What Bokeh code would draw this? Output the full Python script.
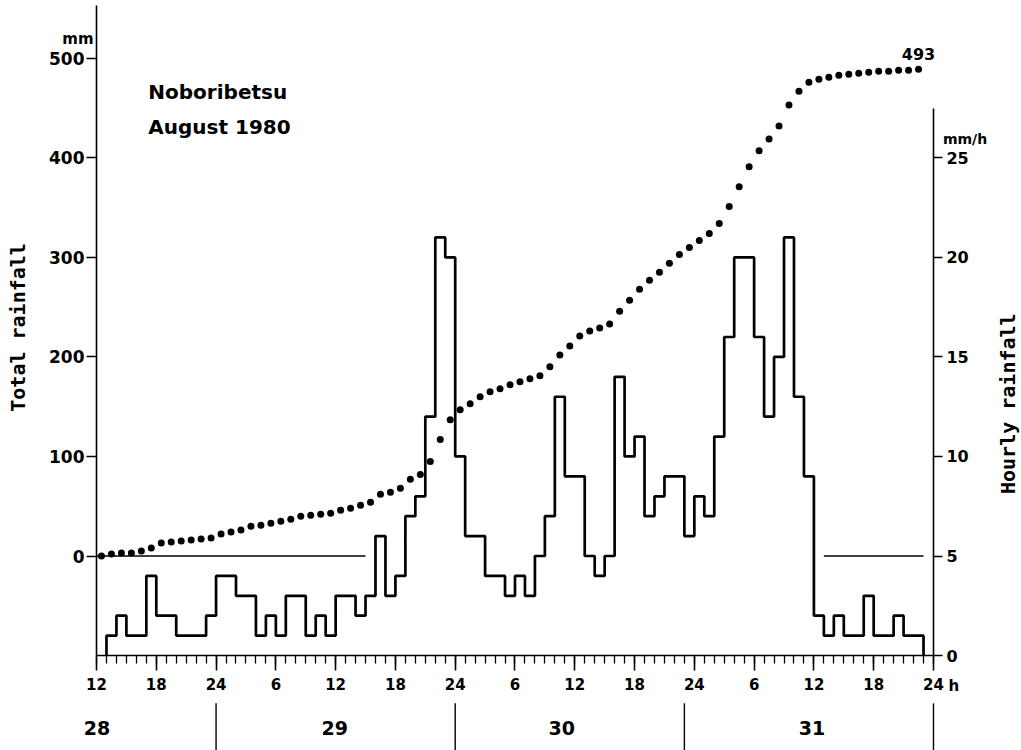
import math
from bokeh.plotting import figure
from bokeh.models import Range1d, LinearAxis, FixedTicker, Label
from bokeh.embed import file_html
from bokeh.resources import INLINE

# ---------------- data ----------------
# start hour of each hourly bar, counted from 0h on 28 August (12 = noon on the 28th)
bar_start_hours = list(range(13, 95))
hourly_rain_mm = [1, 2, 1, 1, 4, 2, 2, 1, 1, 1, 2,                    # 13-23 h, 28th
                  4, 4, 3, 3, 1, 2, 1, 3, 3, 1, 2, 1, 3, 3, 2, 3,     # 29th
                  6, 3, 4, 7, 8, 12, 21, 20, 10, 6, 6, 4, 4, 3,
                  4, 3, 5, 7, 13, 9, 9, 5, 4, 5, 14, 10, 11, 7, 8, 9, 9, 6, 8, 7, 11,
                  16, 20, 20, 16, 12, 15, 21, 13, 9,
                  2, 1, 2, 1, 1, 3, 1, 1, 2, 1, 1]
# cumulative total (dots), one per hour, plotted at mid-hour from 12.5 h
total_rain_mm = [0, 2, 3, 3, 5, 8, 13, 14, 15, 16, 17, 18,
                 22, 24, 26, 30, 31, 33, 35, 37, 40, 41, 42, 43, 46, 48, 51, 54,
                 62, 64, 68, 77, 82, 95, 117, 137, 147, 153, 160, 165, 168, 172,
                 175, 178, 181, 190, 202, 211, 221, 226, 229, 233, 246, 257, 268, 277,
                 285, 294, 303, 310, 317, 324, 334,
                 351, 371, 391, 407, 419, 432, 453, 467, 476,
                 479, 481, 483, 484, 485, 486, 487, 487, 488, 488, 489]
storm_total = "493"
hour_ticks = list(range(12, 97, 6))
hour_tick_labels = ["12", "18", "24", "6", "12", "18", "24", "6", "12", "18", "24",
                    "6", "12", "18", "24"]
total_ticks = [0, 100, 200, 300, 400, 500]
hourly_ticks = [0, 5, 10, 15, 20, 25]
days = ["28", "29", "30", "31"]
day_label_hours = [12.05, 35.9, 58.7, 83.8]
day_separator_hours = [24, 48, 71, 96]
zero_line_spans = [(12, 39), (85, 95)]

# ---------------- geometry of the canvas (px) ----------------
W, H = 1021, 750
X12 = 96.0          # screen x of 12 h
PX_H = 9.964        # px per hour
Y0 = 555.5          # screen y of 0 mm
PX_MM = 0.9954      # px per mm
MM_PER_MMH = 20.0   # 1 mm/h on the right scale = 20 mm on the left scale
MMH_OFFSET = 5.0    # 5 mm/h on the right scale sits at 0 mm

x_start = 12 - X12 / PX_H
x_end = 12 + (W - X12) / PX_H
y_top = Y0 / PX_MM
y_bot = (Y0 - H) / PX_MM

FONT = "DejaVu Sans"

p = figure(width=W, height=H, x_range=Range1d(x_start, x_end), y_range=Range1d(y_bot, y_top),
           output_backend="svg", toolbar_location=None,
           min_border=0, min_border_left=0, min_border_right=0,
           min_border_top=0, min_border_bottom=0)
p.extra_y_ranges = {"h": Range1d(y_bot / MM_PER_MMH + MMH_OFFSET, y_top / MM_PER_MMH + MMH_OFFSET)}
p.outline_line_color = None
p.grid.visible = False
p.background_fill_color = "white"
p.border_fill_color = "white"

def style_axis(ax, size):
    ax.major_tick_in = 0
    ax.axis_line_width = 1.6
    ax.major_tick_line_width = 1.6
    ax.axis_line_color = "black"
    ax.major_tick_line_color = "black"
    ax.major_label_text_font = FONT
    ax.major_label_text_font_style = "bold"
    ax.major_label_text_font_size = size
    ax.major_label_text_color = "black"

# left axis: total rainfall
ya = p.yaxis[0]
style_axis(ya, "17px")
ya.ticker = FixedTicker(ticks=total_ticks)
ya.fixed_location = 12
ya.bounds = (-100, 553)
ya.major_tick_out = 10
ya.minor_tick_line_color = None
ya.major_label_standoff = 2

# bottom axis: hours
xa = p.xaxis[0]
style_axis(xa, "15px")
xa.ticker = FixedTicker(ticks=hour_ticks,
                        minor_ticks=list(range(hour_ticks[0], hour_ticks[-1] + 1)))
xa.major_label_overrides = {t: lab for t, lab in zip(hour_ticks, hour_tick_labels)}
xa.fixed_location = -100
xa.bounds = (12, 96)
xa.major_tick_out = 15
xa.minor_tick_in = 0
xa.minor_tick_out = 8
xa.minor_tick_line_width = 1.3
xa.minor_tick_line_color = "black"
xa.major_label_standoff = 7

# right axis: hourly rainfall
ra = LinearAxis(y_range_name="h", ticker=FixedTicker(ticks=hourly_ticks), bounds=(0, 27.5))
style_axis(ra, "16px")
ra.fixed_location = 96
ra.major_tick_out = 9
ra.minor_tick_line_color = None
ra.major_label_standoff = 4
p.add_layout(ra, "right")

# zero line of the total-rainfall scale
for x0, x1 in zero_line_spans:
    p.line([x0, x1], [0, 0], line_color="black", line_width=1.3)

# hourly rainfall step line
step_x = [bar_start_hours[0]] + bar_start_hours + [bar_start_hours[-1] + 1]
step_y = [0] + hourly_rain_mm + [0]
p.step(step_x, step_y, mode="after", line_color="black", line_width=2.7, y_range_name="h")

# cumulative dots
dot_x = [bar_start_hours[0] - 0.5] + [h + 0.5 for h in bar_start_hours]
p.scatter(dot_x, total_rain_mm, size=7, color="black", line_color=None)

# day separators below the time axis
p.segment(x0=day_separator_hours, y0=[-148] * len(day_separator_hours),
          x1=day_separator_hours, y1=[y_bot - 10] * len(day_separator_hours),
          line_color="black", line_width=1.4)

# ---------------- texts ----------------
def lab(x, y, text, size="15px", align="left", baseline="middle", angle=0, font=FONT):
    p.add_layout(Label(x=x, y=y, text=text, text_font=font, text_font_style="bold",
                       text_font_size=size, text_align=align, text_baseline=baseline,
                       angle=angle, text_color="black"))

lab(17.2, 466, "Noboribetsu", size="20px")
lab(17.2, 431, "August 1980", size="20px")
lab(dot_x[-1], total_rain_mm[-1] + 15, storm_total, size="16px", align="center")
lab(11.7, 519, "mm", size="15px", align="right")
lab(96.95, 419, "mm/h", size="14px")
lab(97.5, -131, "h", size="15px")
lab(4.17, 229.6, "Total rainfall", size="20px", align="center", angle=math.pi / 2,
    font="DejaVu Sans Mono")
lab(103.43, 153, "Hourly rainfall", size="20px", align="center", angle=math.pi / 2,
    font="DejaVu Sans Mono")
for d, hx in zip(days, day_label_hours):
    lab(hx, -173, d, size="19px", align="center")

open("out.html", "w").write(file_html(p, INLINE))
